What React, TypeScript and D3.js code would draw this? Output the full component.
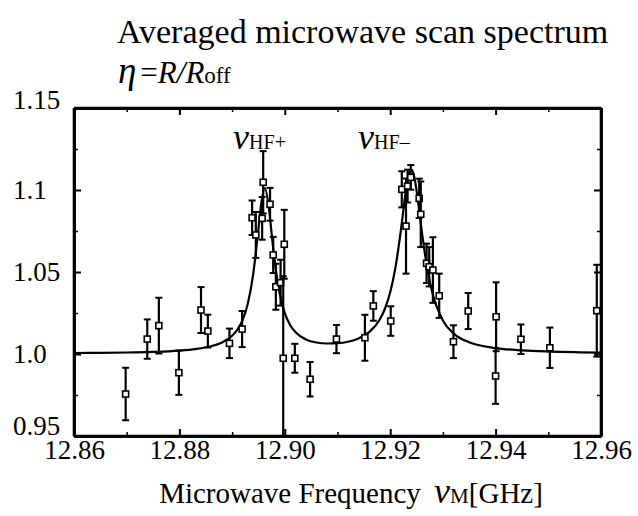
import { useEffect, useRef } from "react";
import * as d3 from "d3";

const W = 638;
const H = 516;
const FONT = "'Liberation Serif', 'Times New Roman', serif";

// measured points: frequency [GHz], eta, error
const freq = [
  12.8698, 12.8739, 12.8761, 12.8799, 12.8841, 12.8854, 12.8895, 12.8919, 12.8938, 12.8945,
  12.8957, 12.8959, 12.8972, 12.8978, 12.8983, 12.8992, 12.8997, 12.8999, 12.9019, 12.9048,
  12.9098, 12.9152, 12.9168, 12.9201, 12.9222, 12.923, 12.9233, 12.9239, 12.9255, 12.9258,
  12.9269, 12.9274, 12.9281, 12.9293, 12.932, 12.9348, 12.94, 12.9401, 12.9448, 12.9503,
  12.9592,
];
const eta = [
  0.9756, 1.0091, 1.0173, 0.9886, 1.0268, 1.014, 1.0065, 1.0152, 1.0831, 1.0726,
  1.0827, 1.1047, 1.0913, 1.0604, 1.041, 1.0435, 0.9974, 1.0669, 0.9974, 0.9846,
  1.0091, 1.0099, 1.0293, 1.0201, 1.1004, 1.078, 1.1024, 1.1077, 1.0949, 1.0852,
  1.0553, 1.0532, 1.0512, 1.0355, 1.0075, 1.0262, 0.9866, 1.0227, 1.009, 1.0038,
  1.0264,
];
const err = [
  0.016, 0.012, 0.017, 0.0135, 0.014, 0.01, 0.009, 0.011, 0.0105, 0.014,
  0.013, 0.019, 0.01, 0.011, 0.014, 0.014, 0.05, 0.021, 0.0088, 0.0105,
  0.0086, 0.014, 0.009, 0.009, 0.011, 0.029, 0.01, 0.0075, 0.012, 0.02,
  0.012, 0.012, 0.02, 0.0135, 0.01, 0.011, 0.017, 0.021, 0.009, 0.0123,
  0.028,
];

// fitted curve
const fitFreq = [
  12.86, 12.865, 12.87, 12.875, 12.88, 12.883, 12.886, 12.888, 12.89, 12.891,
  12.892, 12.893, 12.894, 12.895, 12.8955, 12.8962, 12.897, 12.8975, 12.898, 12.899,
  12.9, 12.901, 12.902, 12.904, 12.906, 12.908, 12.91, 12.912, 12.914, 12.916,
  12.918, 12.919, 12.92, 12.921, 12.922, 12.923, 12.9235, 12.924, 12.9245, 12.925,
  12.926, 12.927, 12.928, 12.93, 12.932, 12.935, 12.94, 12.945, 12.95, 12.955,
  12.96,
];
const fitEta = [
  1.0006, 1.0007, 1.0009, 1.0013, 1.0021, 1.003, 1.0047, 1.0069, 1.0111, 1.0148,
  1.0208, 1.031, 1.0486, 1.0763, 1.0909, 1.1011, 1.0885, 1.0735, 1.0589, 1.0374,
  1.0249, 1.0177, 1.0134, 1.0089, 1.007, 1.0064, 1.0066, 1.0075, 1.0095, 1.0133,
  1.0209, 1.0276, 1.0376, 1.0528, 1.0748, 1.0999, 1.1091, 1.1126, 1.109, 1.0998,
  1.0747, 1.0526, 1.0373, 1.0204, 1.0126, 1.0071, 1.0036, 1.0022, 1.0015, 1.0011,
  1.0008,
];

const xMajor = [12.86, 12.88, 12.9, 12.92, 12.94, 12.96];
const xMinor = [12.87, 12.89, 12.91, 12.93, 12.95];
const yMajor = [0.95, 1.0, 1.05, 1.1, 1.15];
const yMinor = [0.975, 1.025, 1.075, 1.125];
const yLabels = ["0.95", "1.0", "1.05", "1.1", "1.15"];

// resonance labels and where they sit
const peakName = ["HF+", "HF\u2013"];
const peakLabelFreq = [12.8952, 12.9188];

const x = d3.scaleLinear().domain([12.86, 12.96]).range([74, 601]);
const y = d3.scaleLinear().domain([0.95, 1.15]).range([436, 108]);

const App = () => {
  const axRef = useRef<SVGGElement>(null);

  useEffect(() => {
    const g = d3.select(axRef.current);
    g.selectAll("*").remove();

    const styleAxis = (sel: any, w: number) => {
      sel.select(".domain").attr("stroke", "#000").attr("stroke-width", 2.6);
      sel.selectAll(".tick line").attr("stroke", "#000").attr("stroke-width", w);
      sel.selectAll("text").attr("font-family", FONT).attr("font-size", 27).attr("fill", "#000");
    };
    const noLabel = () => "";

    // bottom
    g.append("g")
      .attr("transform", `translate(0,${y(0.95)})`)
      .call(d3.axisBottom(x).tickValues(xMajor).tickSizeInner(-7).tickSizeOuter(0).tickPadding(4).tickFormat(d3.format(".2f")))
      .call((s) => styleAxis(s, 2));
    g.append("g")
      .attr("transform", `translate(0,${y(0.95)})`)
      .call(d3.axisBottom(x).tickValues(xMinor).tickSizeInner(-4).tickSizeOuter(0).tickFormat(noLabel))
      .call((s) => styleAxis(s, 1.5));
    // top
    g.append("g")
      .attr("transform", `translate(0,${y(1.15)})`)
      .call(d3.axisTop(x).tickValues(xMajor).tickSizeInner(-7).tickSizeOuter(0).tickFormat(noLabel))
      .call((s) => styleAxis(s, 2));
    g.append("g")
      .attr("transform", `translate(0,${y(1.15)})`)
      .call(d3.axisTop(x).tickValues(xMinor).tickSizeInner(-4).tickSizeOuter(0).tickFormat(noLabel))
      .call((s) => styleAxis(s, 1.5));
    // left
    g.append("g")
      .attr("transform", `translate(${x(12.86)},0)`)
      .call(d3.axisLeft(y).tickValues(yMajor).tickSizeInner(-7).tickSizeOuter(0).tickFormat((d, i) => yLabels[i]))
      .call((s) => styleAxis(s, 2))
      .call((s) =>
        s.selectAll("text")
          .attr("text-anchor", "start")
          .attr("x", -61)
          .attr("dy", (d: any) => (d === 0.95 ? "-0.05em" : d === 1.15 ? "0.02em" : "0.3em"))
      );
    g.append("g")
      .attr("transform", `translate(${x(12.86)},0)`)
      .call(d3.axisLeft(y).tickValues(yMinor).tickSizeInner(-4).tickSizeOuter(0).tickFormat(noLabel))
      .call((s) => styleAxis(s, 1.5));
    // right
    g.append("g")
      .attr("transform", `translate(${x(12.96)},0)`)
      .call(d3.axisRight(y).tickValues(yMajor).tickSizeInner(-7).tickSizeOuter(0).tickFormat(noLabel))
      .call((s) => styleAxis(s, 2));
    g.append("g")
      .attr("transform", `translate(${x(12.96)},0)`)
      .call(d3.axisRight(y).tickValues(yMinor).tickSizeInner(-4).tickSizeOuter(0).tickFormat(noLabel))
      .call((s) => styleAxis(s, 1.5));
  }, []);

  const line = d3
    .line<number>()
    .x((d) => x(d))
    .y((_, i) => y(fitEta[i]))
    .curve(d3.curveMonotoneX);

  const yLo = (v: number) => y(Math.max(0.95, v));
  const yHi = (v: number) => y(Math.min(1.15, v));
  const [x0, x1] = x.range();
  const [y0, y1] = y.range();

  return (
    <svg width={W} height={H} style={{ position: "absolute", left: 0, top: 0, background: "#fff" }}>
      <text x={117} y={43} fontFamily={FONT} fontSize={34}>
        Averaged microwave scan spectrum
      </text>
      <text x={118} y={83} fontFamily={FONT}>
        <tspan fontSize={37} fontStyle="italic">η</tspan>
        <tspan fontSize={31} dx={4}>=</tspan>
        <tspan fontSize={31} fontStyle="italic">R/R</tspan>
        <tspan fontSize={23}>off</tspan>
      </text>

      {/* plot frame */}
      <g stroke="#000" strokeWidth={2.6}>
        <line x1={x0} x2={x1} y1={y0} y2={y0} />
        <line x1={x0} x2={x1} y1={y1} y2={y1} />
        <line x1={x0} x2={x0} y1={y0} y2={y1} />
        <line x1={x1} x2={x1} y1={y0} y2={y1} />
      </g>

      <path d={line(fitFreq) ?? ""} fill="none" stroke="#000" strokeWidth={2.2} />

      {freq.map((f, i) => {
        const cx = x(f);
        const top = yHi(eta[i] + err[i]);
        const bot = yLo(eta[i] - err[i]);
        return (
          <g key={i} stroke="#000">
            <line x1={cx} x2={cx} y1={top} y2={bot} strokeWidth={2.2} />
            <line x1={cx - 3.5} x2={cx + 3.5} y1={top} y2={top} strokeWidth={2} />
            {eta[i] - err[i] > 0.95 && <line x1={cx - 3.5} x2={cx + 3.5} y1={bot} y2={bot} strokeWidth={2} />}
            <rect x={cx - 3} y={y(eta[i]) - 3} width={6} height={6} fill="#fff" strokeWidth={1.6} />
          </g>
        );
      })}

      {peakLabelFreq.map((f, i) => (
        <text key={i} x={x(f)} y={149} fontFamily={FONT} textAnchor="middle">
          <tspan fontSize={36} fontStyle="italic">ν</tspan>
          <tspan fontSize={20}>{peakName[i]}</tspan>
        </text>
      ))}

      <g ref={axRef} />

      <text x={351} y={503} fontFamily={FONT} textAnchor="middle">
        <tspan fontSize={29}>Microwave Frequency </tspan>
        <tspan fontSize={36} fontStyle="italic" dx={6}>ν</tspan>
        <tspan fontSize={21}>M</tspan>
        <tspan fontSize={29}>[GHz]</tspan>
      </text>
    </svg>
  );
};

export default App;
